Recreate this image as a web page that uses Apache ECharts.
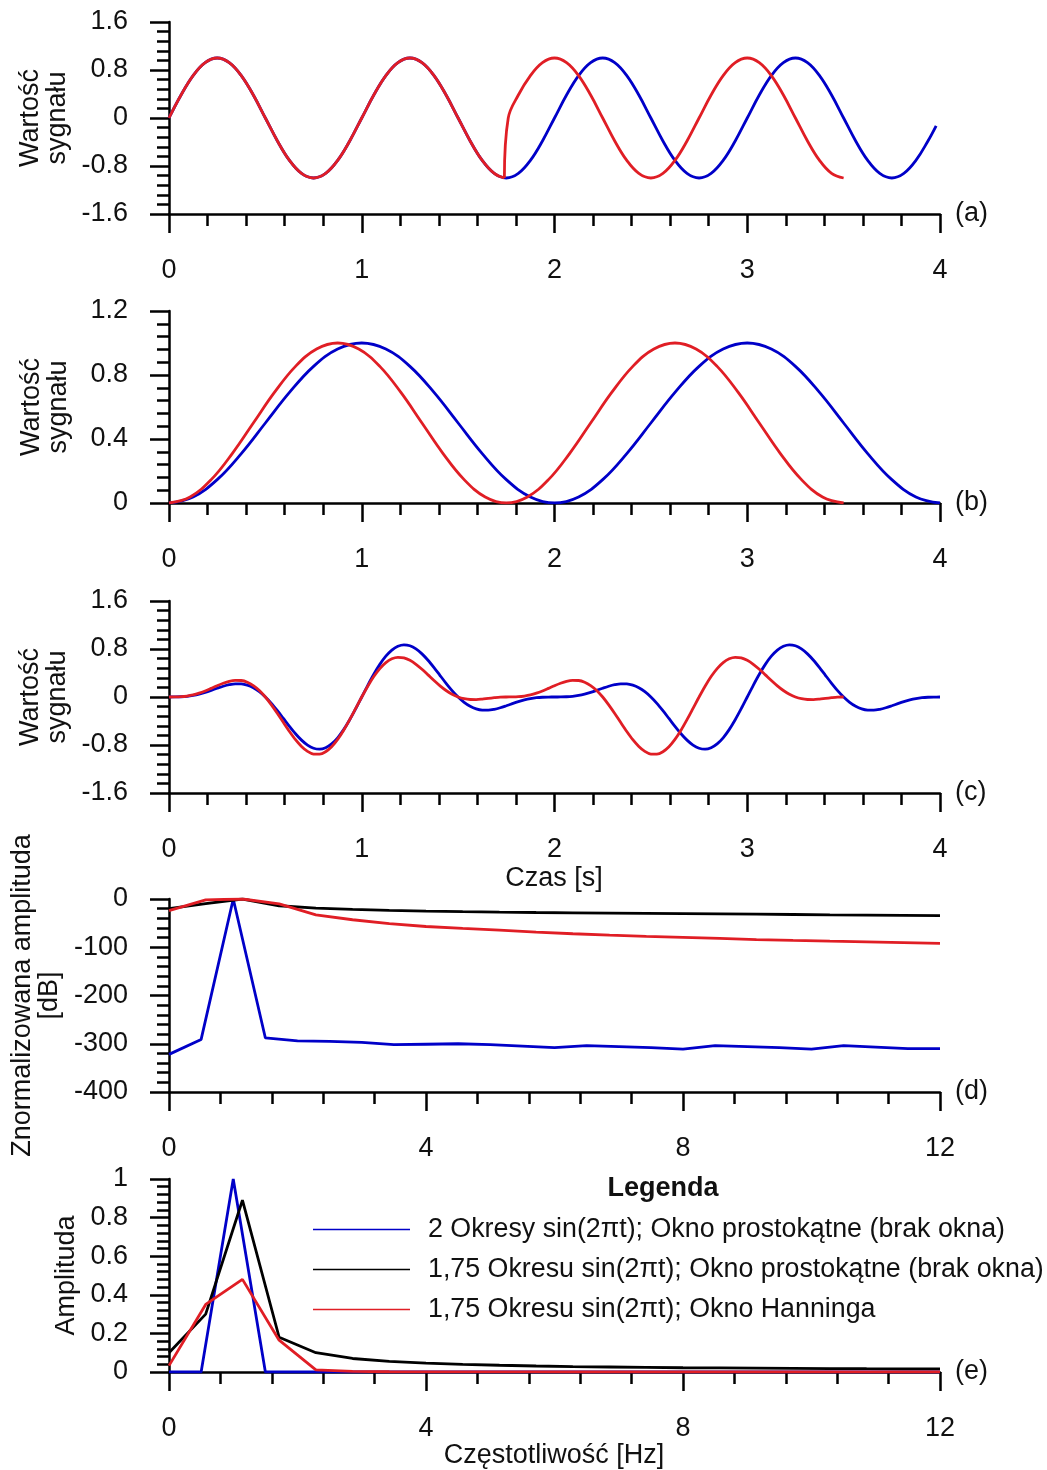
<!DOCTYPE html>
<html>
<head>
<meta charset="utf-8">
<script src="https://cdn.jsdelivr.net/npm/echarts@6/dist/echarts.min.js"></script>
<style>
    html, body { margin: 0; padding: 0; background: #fff; }
    #chart { width: 1047px; height: 1470px; }
</style>
</head>
<body>
<div id="chart"></div>
<script>
// ---- time samples [s] ----
const timeFine = [0, 0.0625, 0.125, 0.1875, 0.25, 0.3125, 0.375, 0.4375, 0.5, 0.5625, 0.625, 0.6875, 0.75, 0.8125, 0.875, 0.9375,
    1, 1.0625, 1.125, 1.1875, 1.25, 1.3125, 1.375, 1.4375, 1.5, 1.5625, 1.625, 1.6875, 1.75, 1.8125, 1.875, 1.9375,
    2, 2.0625, 2.125, 2.1875, 2.25, 2.3125, 2.375, 2.4375, 2.5, 2.5625, 2.625, 2.6875, 2.75, 2.8125, 2.875, 2.9375,
    3, 3.0625, 3.125, 3.1875, 3.25, 3.3125, 3.375, 3.4375, 3.5, 3.5625, 3.625, 3.6875, 3.75, 3.8125, 3.875, 3.9375, 4];
const timeFiner = [0, 0.03125, 0.0625, 0.09375, 0.125, 0.15625, 0.1875, 0.21875, 0.25, 0.28125, 0.3125, 0.34375, 0.375, 0.40625, 0.4375, 0.46875,
    0.5, 0.53125, 0.5625, 0.59375, 0.625, 0.65625, 0.6875, 0.71875, 0.75, 0.78125, 0.8125, 0.84375, 0.875, 0.90625, 0.9375, 0.96875,
    1, 1.03125, 1.0625, 1.09375, 1.125, 1.15625, 1.1875, 1.21875, 1.25, 1.28125, 1.3125, 1.34375, 1.375, 1.40625, 1.4375, 1.46875,
    1.5, 1.53125, 1.5625, 1.59375, 1.625, 1.65625, 1.6875, 1.71875, 1.75, 1.78125, 1.8125, 1.84375, 1.875, 1.90625, 1.9375, 1.96875,
    2, 2.03125, 2.0625, 2.09375, 2.125, 2.15625, 2.1875, 2.21875, 2.25, 2.28125, 2.3125, 2.34375, 2.375, 2.40625, 2.4375, 2.46875,
    2.5, 2.53125, 2.5625, 2.59375, 2.625, 2.65625, 2.6875, 2.71875, 2.75, 2.78125, 2.8125, 2.84375, 2.875, 2.90625, 2.9375, 2.96875,
    3, 3.03125, 3.0625, 3.09375, 3.125, 3.15625, 3.1875, 3.21875, 3.25, 3.28125, 3.3125, 3.34375, 3.375, 3.40625, 3.4375, 3.46875,
    3.5, 3.53125, 3.5625, 3.59375, 3.625, 3.65625, 3.6875, 3.71875, 3.75, 3.78125, 3.8125, 3.84375, 3.875, 3.90625, 3.9375, 3.96875, 4];
const timeCoarse = [0, 0.125, 0.25, 0.375, 0.5, 0.625, 0.75, 0.875, 1, 1.125, 1.25, 1.375, 1.5, 1.625, 1.75, 1.875,
    2, 2.125, 2.25, 2.375, 2.5, 2.625, 2.75, 2.875, 3, 3.125, 3.25, 3.375, 3.5, 3.625, 3.75, 3.875, 4];
const timeHann175 = [0, 0.1094, 0.2188, 0.3281, 0.4375, 0.5469, 0.6563, 0.7656, 0.875, 0.9844, 1.0938, 1.2031, 1.3125, 1.4219, 1.5313, 1.6406,
    1.75, 1.8594, 1.9688, 2.0781, 2.1875, 2.2969, 2.4063, 2.5156, 2.625, 2.7344, 2.8438, 2.9531, 3.0625, 3.1719, 3.2813, 3.3906, 3.5];

// ---- (a) signal ----
const blueA = [0, 0.383, 0.707, 0.924, 1, 0.924, 0.707, 0.383, 0, -0.383, -0.707, -0.924, -1, -0.924, -0.707, -0.383,
    0, 0.383, 0.707, 0.924, 1, 0.924, 0.707, 0.383, 0, -0.383, -0.707, -0.924, -1, -0.924, -0.707, -0.383,
    0, 0.383, 0.707, 0.924, 1, 0.924, 0.707, 0.383, 0, -0.383, -0.707, -0.924, -1, -0.924, -0.707, -0.383,
    0, 0.383, 0.707, 0.924, 1, 0.924, 0.707, 0.383, 0, -0.383, -0.707, -0.924, -1, -0.924, -0.707, -0.383, -0.13];
const redA1 = [0, 0.383, 0.707, 0.924, 1, 0.924, 0.707, 0.383, 0, -0.383, -0.707, -0.924, -1, -0.924, -0.707, -0.383,
    0, 0.383, 0.707, 0.924, 1, 0.924, 0.707, 0.383, 0, -0.383, -0.707, -0.924, -1];
const redA2 = [-1, 0, 0.383, 0.707, 0.924, 1, 0.924, 0.707, 0.383, 0, -0.383, -0.707, -0.924, -1, -0.924, -0.707, -0.383,
    0, 0.383, 0.707, 0.924, 1, 0.924, 0.707, 0.383, 0, -0.383, -0.707, -0.924, -1];

// ---- (b) window ----
const blueB = [0, 0.038, 0.146, 0.309, 0.5, 0.691, 0.854, 0.962, 1, 0.962, 0.854, 0.691, 0.5, 0.309, 0.146, 0.038,
    0, 0.038, 0.146, 0.309, 0.5, 0.691, 0.854, 0.962, 1, 0.962, 0.854, 0.691, 0.5, 0.309, 0.146, 0.038, 0];
const redB = [0, 0.038, 0.146, 0.309, 0.5, 0.691, 0.854, 0.962, 1, 0.962, 0.854, 0.691, 0.5, 0.309, 0.146, 0.038,
    0, 0.038, 0.146, 0.309, 0.5, 0.691, 0.854, 0.962, 1, 0.962, 0.854, 0.691, 0.5, 0.309, 0.146, 0.038, 0];

// ---- (c) windowed signal ----
const blueC = [0, 0.001, 0.004, 0.012, 0.027, 0.049, 0.078, 0.111, 0.146, 0.179, 0.205, 0.22, 0.218, 0.197, 0.154, 0.088,
    0, -0.107, -0.229, -0.358, -0.489, -0.612, -0.719, -0.802, -0.854, -0.87, -0.846, -0.782, -0.68, -0.544, -0.379, -0.195,
    0, 0.195, 0.379, 0.544, 0.68, 0.782, 0.846, 0.87, 0.854, 0.802, 0.719, 0.612, 0.489, 0.358, 0.229, 0.107,
    0, -0.088, -0.154, -0.197, -0.218, -0.22, -0.205, -0.179, -0.146, -0.111, -0.078, -0.049, -0.027, -0.012, -0.004, -0.001,
    0, 0.001, 0.004, 0.012, 0.027, 0.049, 0.078, 0.111, 0.146, 0.179, 0.205, 0.22, 0.218, 0.197, 0.154, 0.088,
    0, -0.107, -0.229, -0.358, -0.489, -0.612, -0.719, -0.802, -0.854, -0.87, -0.846, -0.782, -0.68, -0.544, -0.379, -0.195,
    0, 0.195, 0.379, 0.544, 0.68, 0.782, 0.846, 0.87, 0.854, 0.802, 0.719, 0.612, 0.489, 0.358, 0.229, 0.107,
    0, -0.088, -0.154, -0.197, -0.218, -0.22, -0.205, -0.179, -0.146, -0.111, -0.078, -0.049, -0.027, -0.012, -0.004, -0.001, 0];
const redC = [0, 0.001, 0.005, 0.016, 0.035, 0.064, 0.101, 0.144, 0.188, 0.229, 0.262, 0.278, 0.275, 0.247, 0.191, 0.109,
    0, -0.13, -0.274, -0.426, -0.574, -0.71, -0.823, -0.906, -0.951, -0.953, -0.912, -0.829, -0.707, -0.554, -0.378, -0.19,
    0, 0.18, 0.341, 0.474, 0.574, 0.637, 0.662, 0.652, 0.611, 0.545, 0.462, 0.369, 0.275, 0.186, 0.108, 0.046,
    0, -0.029, -0.042, -0.043, -0.035, -0.023, -0.012, -0.003,
    0, 0.001, 0.005, 0.016, 0.035, 0.064, 0.101, 0.144, 0.188, 0.229, 0.262, 0.278, 0.275, 0.247, 0.191, 0.109,
    0, -0.13, -0.274, -0.426, -0.574, -0.71, -0.823, -0.906, -0.951, -0.953, -0.912, -0.829, -0.707, -0.554, -0.378, -0.19,
    0, 0.18, 0.341, 0.474, 0.574, 0.637, 0.662, 0.652, 0.611, 0.545, 0.462, 0.369, 0.275, 0.186, 0.108, 0.046,
    0, -0.029, -0.042, -0.043, -0.035, -0.023, -0.012, -0.003, 0];

// ---- (d), (e) spectra ----
const freqBlue = [0, 0.5, 1, 1.5, 2, 2.5, 3, 3.5, 4, 4.5, 5, 5.5, 6, 6.5, 7, 7.5, 8, 8.5, 9, 9.5, 10, 10.5, 11, 11.5, 12];
const freqWin = [0, 0.571, 1.143, 1.714, 2.286, 2.857, 3.429, 4, 4.571, 5.143, 5.714, 6.286, 6.857, 7.429, 8, 8.571,
    9.143, 9.714, 10.286, 10.857, 11.429, 12];

const dbBlue = [-322, -291, 0, -288, -294, -295, -297, -302, -301, -300, -302, -305, -308, -304, -306, -308,
    -311, -304, -306, -308, -311, -304, -307, -310, -310];
const dbBlack = [-20, -9.5, 0, -14, -19, -21.5, -23.5, -25, -26.3, -27.2, -28, -28.6, -29.2, -29.8, -30.4, -30.9,
    -31.5, -32.1, -32.8, -33.4, -34, -34.6];
const dbRed = [-24, -2, 0, -10, -33, -43, -51, -57, -61, -64.5, -68.5, -72, -75, -77.5, -79.5, -81.5,
    -84, -85.8, -87.5, -89, -90.5, -92];

const ampBlue = [0, 0, 1, 0, 0, 0, 0, 0, 0, 0, 0, 0, 0, 0, 0, 0, 0, 0, 0, 0, 0, 0, 0, 0, 0];
const ampBlack = [0.1, 0.3, 0.89, 0.18, 0.1, 0.07, 0.055, 0.046, 0.04, 0.035, 0.031, 0.028, 0.026, 0.024, 0.022, 0.021,
    0.02, 0.019, 0.018, 0.017, 0.0165, 0.016];
const ampRed = [0.033, 0.35, 0.48, 0.165, 0.011, 0.0034, 0.0013, 0.0007, 0.0004, 0.0003, 0.0002, 0.0001, 0.0001, 0.0001, 0.0001, 0.0001,
    0, 0, 0, 0, 0, 0];

const names = [
    '2 Okresy sin(2πt); Okno prostokątne (brak okna)',
    '1,75 Okresu sin(2πt); Okno prostokątne (brak okna)',
    '1,75 Okresu sin(2πt); Okno Hanninga'
];

const BLUE = '#0000c8';
const RED = '#e01e25';
const BLACK = '#000000';
const FONT = 'Liberation Sans, Arial, sans-serif';
const TXT = '#111111';

function pairs(xs, ys){
    return ys.map(function(v, i){ return [xs[i], v]; });
}

const timeBlueA = timeFine.slice(0, 64).concat([3.98]);
const timeRedA1 = timeFine.slice(0, 28).concat([1.74]);
const timeRedA2 = [1.74, 1.76].concat(timeFine.slice(29, 57));

const tops = [22, 311, 601, 899, 1179];
const heights = [192, 192, 192, 193, 193];

function x_axis(idx, max, interval, tag){
    return {
        type: 'value', gridIndex: idx, min: 0, max: max, interval: interval,
        name: tag, nameLocation: 'end', nameGap: 15,
        nameTextStyle: { fontFamily: FONT, fontSize: 27, color: TXT, padding: [0, 0, 6, 0] },
        axisLine: { onZero: false, lineStyle: { color: BLACK, width: 2.5 } },
        axisTick: { show: true, length: 19, lineStyle: { color: BLACK, width: 2.5 } },
        minorTick: { show: true, splitNumber: 5, length: 12, lineStyle: { color: BLACK, width: 2.5 } },
        axisLabel: { margin: 43, fontFamily: FONT, fontSize: 27, color: TXT },
        splitLine: { show: false },
        minorSplitLine: { show: false }
    };
}

function y_axis(idx, min, max, interval, title, gap){
    return {
        type: 'value', gridIndex: idx, min: min, max: max, interval: interval,
        name: title, nameLocation: 'middle', nameRotate: 90, nameGap: gap,
        nameTextStyle: { fontFamily: FONT, fontSize: 27, lineHeight: 27, color: TXT },
        axisLine: { onZero: false, lineStyle: { color: BLACK, width: 2.5 } },
        axisTick: { show: true, length: 19, lineStyle: { color: BLACK, width: 2.5 } },
        minorTick: { show: true, splitNumber: 5, length: 12, lineStyle: { color: BLACK, width: 2.5 } },
        axisLabel: { margin: 41, fontFamily: FONT, fontSize: 27, color: TXT },
        splitLine: { show: false },
        minorSplitLine: { show: false }
    };
}

function line(idx, data, color, name, smooth){
    return {
        type: 'line', name: name, xAxisIndex: idx, yAxisIndex: idx,
        data: data, smooth: smooth, showSymbol: false, symbol: 'none',
        lineStyle: { color: color, width: 2.8 }, itemStyle: { color: color },
        emphasis: { disabled: true }
    };
}

let options = {
    animation: false,
    backgroundColor: '#ffffff',
    grid: tops.map(function(t, i){
        return { left: 169, width: 771, top: t, height: heights[i], containLabel: false, outerBoundsMode: 'none' };
    }),
    xAxis: [
        x_axis(0, 4, 1, '(a)'),
        x_axis(1, 4, 1, '(b)'),
        x_axis(2, 4, 1, '(c)'),
        x_axis(3, 12, 4, '(d)'),
        x_axis(4, 12, 4, '(e)')
    ],
    yAxis: [
        y_axis(0, -1.6, 1.6, 0.8, 'Wartość\nsygnału', 97),
        y_axis(1, 0, 1.2, 0.4, 'Wartość\nsygnału', 97),
        y_axis(2, -1.6, 1.6, 0.8, 'Wartość\nsygnału', 97),
        y_axis(3, -400, 0, 100, 'Znormalizowana amplituda\n[dB]', 98),
        y_axis(4, 0, 1, 0.2, 'Amplituda', 87)
    ],
    legend: {
        orient: 'vertical', left: 308, top: 1211,
        icon: 'rect', itemWidth: 97, itemHeight: 1.5, itemGap: 13,
        selectedMode: false,
        textStyle: { fontFamily: FONT, fontSize: 26.8, lineHeight: 26, color: TXT, padding: [0, 0, 0, 13] },
        data: names
    },
    graphic: [
        { type: 'text', x: 554, y: 879, style: { text: 'Czas [s]', font: '27px ' + FONT, fill: TXT, textAlign: 'center', textVerticalAlign: 'middle' } },
        { type: 'text', x: 554, y: 1456, style: { text: 'Częstotliwość [Hz]', font: '27px ' + FONT, fill: TXT, textAlign: 'center', textVerticalAlign: 'middle' } },
        { type: 'text', x: 663, y: 1189, style: { text: 'Legenda', font: 'bold 27px ' + FONT, fill: TXT, textAlign: 'center', textVerticalAlign: 'middle' } }
    ],
    series: [
        line(0, pairs(timeBlueA, blueA), BLUE, null, 0.4),
        line(0, pairs(timeRedA1, redA1), RED, null, 0.4),
        line(0, pairs(timeRedA2, redA2), RED, null, 0.4),

        line(1, pairs(timeCoarse, blueB), BLUE, null, 0.4),
        line(1, pairs(timeHann175, redB), RED, null, 0.4),

        line(2, pairs(timeFiner, blueC), BLUE, null, 0.3),
        line(2, pairs(timeFiner, redC), RED, null, 0.3),

        line(3, pairs(freqBlue, dbBlue), BLUE, names[0], false),
        line(3, pairs(freqWin, dbBlack), BLACK, names[1], false),
        line(3, pairs(freqWin, dbRed), RED, names[2], false),

        line(4, pairs(freqBlue, ampBlue), BLUE, names[0], false),
        line(4, pairs(freqWin, ampBlack), BLACK, names[1], false),
        line(4, pairs(freqWin, ampRed), RED, names[2], false)
    ]
};

echarts.init(document.getElementById('chart')).setOption(options);
</script>
</body>
</html>
